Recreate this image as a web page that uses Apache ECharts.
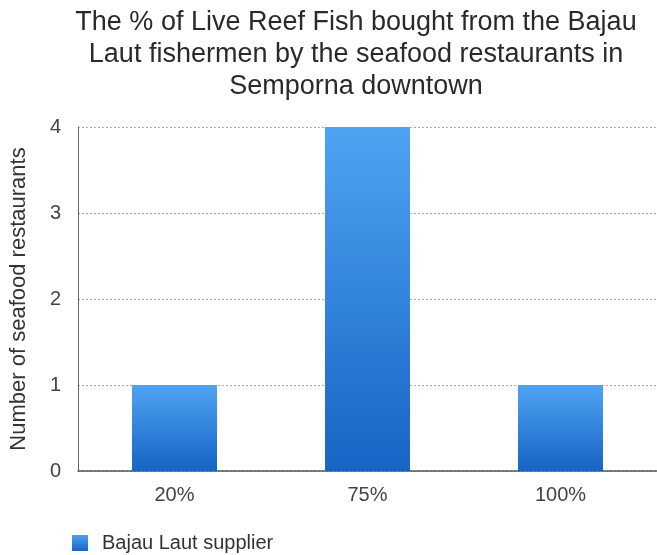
<!DOCTYPE html>
<html>
<head>
<meta charset="utf-8">
<script src="https://cdn.jsdelivr.net/npm/echarts@6/dist/echarts.min.js"></script>
<style>
  html, body { margin: 0; padding: 0; background: #fff; }
  #chart { width: 657px; height: 555px; }
</style>
</head>
<body>
<div id="chart"></div>
<script>
// Share of live reef fish bought from Bajau Laut fishermen
const categories = ['20%', '75%', '100%'];
const restaurantCounts = [1, 4, 1];
const yTicks = [0, 1, 2, 3, 4];
const seriesName = 'Bajau Laut supplier';
const titleText = 'The % of Live Reef Fish bought from the Bajau\nLaut fishermen by the seafood restaurants in\nSemporna downtown';

const FONT = '"Liberation Sans", Arial, sans-serif';

const barGradient = new echarts.graphic.LinearGradient(0, 0, 0, 1, [
  { offset: 0, color: '#4fa3f2' },
  { offset: 1, color: '#1664c4' }
]);

const chart = echarts.init(document.getElementById('chart'), null, { renderer: 'canvas' });
chart.setOption({
  backgroundColor: '#ffffff',
  animation: false,
  title: {
    text: titleText,
    left: 351,
    textAlign: 'center',
    top: 2,
    textStyle: {
      fontFamily: FONT,
      fontWeight: 'normal',
      fontSize: 27,
      lineHeight: 32,
      color: '#2a2a2a'
    }
  },
  legend: {
    data: [seriesName],
    left: 67,
    top: 528,
    itemWidth: 16,
    itemHeight: 16,
    icon: 'rect',
    textStyle: { fontFamily: FONT, fontSize: 20, color: '#333333', padding: [0, 0, 0, 9] }
  },
  grid: { left: 74, top: 127, width: 585, height: 344, containLabel: false },
  xAxis: {
    type: 'category',
    data: categories,
    axisLine: { lineStyle: { color: '#555555', width: 1.5 } },
    axisTick: { show: false },
    axisLabel: { fontFamily: FONT, fontSize: 20, color: '#444444', margin: 14 }
  },
  yAxis: {
    type: 'value',
    min: yTicks[0],
    max: yTicks[yTicks.length - 1],
    interval: 1,
    name: 'Number of seafood restaurants',
    nameLocation: 'middle',
    nameGap: 48,
    nameTextStyle: { fontFamily: FONT, fontSize: 22, color: '#333333' },
    axisLine: { show: true, lineStyle: { color: '#666666', width: 1 } },
    axisTick: { show: false },
    axisLabel: { fontFamily: FONT, fontSize: 20, color: '#444444', margin: 17 },
    splitLine: { lineStyle: { color: '#aaaaaa', type: [2, 2], width: 1 } }
  },
  series: [{
    name: seriesName,
    type: 'bar',
    data: restaurantCounts,
    barWidth: 85,
    itemStyle: { color: barGradient }
  }]
});
</script>
</body>
</html>
